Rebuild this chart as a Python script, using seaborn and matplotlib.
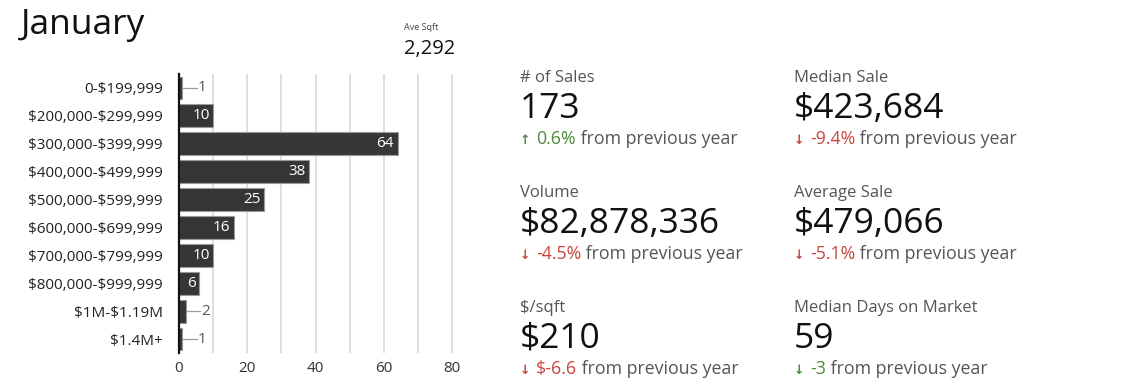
import matplotlib
matplotlib.use("Agg")
import matplotlib.pyplot as plt
import seaborn as sns
import pandas as pd

# Price band counts
price_bands = ["0-$199,999", "$200,000-$299,999", "$300,000-$399,999",
               "$400,000-$499,999", "$500,000-$599,999", "$600,000-$699,999",
               "$700,000-$799,999", "$800,000-$999,999", "$1M-$1.19M", "$1.4M+"]
sales_count = [1, 10, 64, 38, 25, 16, 10, 6, 2, 1]
x_ticks = [0, 20, 40, 60, 80]

month = "January"
ave_sqft = "2,292"

# Stats panel
stat_labels = ["# of Sales", "Median Sale", "Volume", "Average Sale",
               "$/sqft", "Median Days on Market"]
stat_values = ["173", "$423,684", "$82,878,336", "$479,066", "$210", "59"]
stat_changes = ["0.6%", "-9.4%", "-4.5%", "-5.1%", "$-6.6", "-3"]
stat_good = [True, False, False, False, False, True]

sns.set_theme(style="white")
plt.rcParams["font.family"] = ["Open Sans", "DejaVu Sans"]
plt.rcParams["text.parse_math"] = False

W, H = 1121, 388
fig = plt.figure(figsize=(W / 100, H / 100), dpi=100)


def fx(px):
    return px / W


def fy(py):
    return 1 - py / H


ax = fig.add_axes([fx(179), fy(353), fx(459) - fx(179), fy(74) - fy(353)])
df = pd.DataFrame({"band": price_bands, "count": sales_count})
sns.barplot(data=df, x="count", y="band", orient="h", color="#363636",
            saturation=1, edgecolor="#9a9a9a", linewidth=0.8, width=0.82, ax=ax)

for g in range(10, 90, 10):
    ax.axvline(g, color="#dcdcdc", lw=1.3, zorder=0)

for i, v in enumerate(sales_count):
    if v >= 5:
        ax.text(v - 1.0, i, str(v), color="white", ha="right", va="center",
                fontsize=11)
    else:
        ax.plot([v, v + 4.2], [i, i], color="#9a9a9a", lw=0.9)
        ax.text(v + 4.4, i, str(v), color="#555555", ha="left", va="center",
                fontsize=11)

ax.set_xlim(0, 82)
ax.set_ylim(len(price_bands) - 0.5, -0.5)
ax.set_xticks(x_ticks)
ax.set_xlabel("")
ax.set_ylabel("")
for s in ["top", "right", "bottom"]:
    ax.spines[s].set_visible(False)
ax.spines["left"].set_color("#111111")
ax.spines["left"].set_linewidth(1.6)
ax.tick_params(axis="y", length=0, pad=11.5, labelsize=11, labelcolor="#222222")
ax.tick_params(axis="x", length=0, pad=6, labelsize=11, labelcolor="#333333")

# Title and average sqft
fig.text(fx(21), fy(34), month, fontsize=25.5, color="#111111", va="baseline")
fig.text(fx(404), fy(30), "Ave Sqft", fontsize=6.5, color="#444444", va="baseline")
fig.text(fx(404), fy(54), ave_sqft, fontsize=14.5, color="#111111", va="baseline")

# Stats blocks
col_x = [520, 794]
for k in range(len(stat_labels)):
    x0 = col_x[k % 2]
    off = 115 * (k // 2)
    fig.text(fx(x0), fy(82 + off), stat_labels[k], fontsize=12,
             color="#555555", va="baseline")
    fig.text(fx(x0), fy(118 + off), stat_values[k], fontsize=25.5,
             color="#111111", va="baseline")
    col = "#4b8b3b" if stat_good[k] else "#c9453f"
    up = stat_changes[k][0] not in "-$"
    arrow = "\u2191" if up else "\u2193"
    fig.text(fx(x0), fy(144 + off), arrow, fontsize=9, color=col,
             va="baseline", fontweight="bold", family="DejaVu Sans")
    t1 = fig.text(fx(x0 + 16), fy(144 + off), stat_changes[k], fontsize=12.8,
                  color=col, va="baseline")
    ax.annotate(" from previous year", xy=(1, 0), xycoords=t1,
                va="bottom", ha="left", fontsize=12.8, color="#555555",
                annotation_clip=False)

fig.savefig("out.png", dpi=100, facecolor="white")
